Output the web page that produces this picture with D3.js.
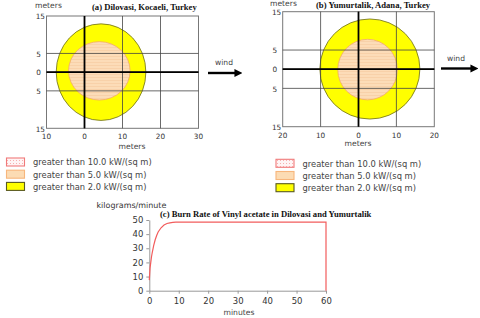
<!DOCTYPE html>
<html><head><meta charset="utf-8">
<script src="https://cdn.jsdelivr.net/npm/d3@7"></script>
<style>
body{margin:0;background:#fff;}
svg{display:block;}
text{font-family:"DejaVu Sans",Verdana,sans-serif;}
.ttl{font-family:"Liberation Serif","Times New Roman",serif;font-weight:bold;}
</style></head><body>
<svg id="c" width="480" height="318"></svg>
<script>
// ---- data ----
const xTicksA = [-10, 0, 10, 20, 30];
const xTicksB = [-20, -10, 0, 10, 20];
const yTicks = [15, 5, 0, -5, -15];
const gridXA = [0, 10, 20];
const gridXB = [-10, 0, 10];
const gridY = [5, 0, -5];
// threat zones: [level, cx, cy, rx, ry] in meters
const zonesA = [["2.0", 4.35, 0.0, 11.8, 12.9], ["5.0", 3.9, 0.35, 8.1, 7.8]];
const zonesB = [["2.0", 3.0, 0.05, 13.2, 13.05], ["5.0", 2.4, -0.1, 7.87, 7.9]];
const legendLabels = ["greater than 10.0 kW/(sq m)", "greater than 5.0 kW/(sq m)", "greater than 2.0 kW/(sq m)"];
const burnMinutes = [0, 0.25, 0.5, 0.75, 1, 1.5, 2, 2.5, 3, 4, 5, 6, 7, 8, 9, 10, 20, 30, 40, 50, 60, 60];
const burnRate =    [7.5, 16, 20, 24, 27, 32, 36, 39, 41.5, 44.5, 46.5, 47.5, 48, 48.3, 48.5, 48.5, 48.5, 48.5, 48.5, 48.5, 48.5, 0];
const burnXTicks = [0, 10, 20, 30, 40, 50, 60];
const burnYTicks = [0, 10, 20, 30, 40, 50];

const svg = d3.select("#c");
// font-size that gives a string a target width
function sizeFor(str, w, cls){
  const t = svg.append("text").attr("font-size",10).attr("class",cls||null).text(str);
  const l = t.node().getComputedTextLength(); t.remove();
  return 10*w/l;
}
const fsTick = sizeFor("10", 9.3);
const fsTickC = sizeFor("10", 10.8);
const fsMeters = sizeFor("meters", 27);
const fsLegend = sizeFor(legendLabels[0], 119);
const fsTitle = sizeFor("(a) Dilovasi, Kocaeli, Turkey", 105, "ttl");
const fsWind = sizeFor("wind", 18);
const fsKg = sizeFor("kilograms/minute", 70);
const fsMin = sizeFor("minutes", 31);

const defs = svg.append("defs");
const hatch = defs.append("pattern").attr("id","hatch").attr("patternUnits","userSpaceOnUse").attr("width",3).attr("height",3);
hatch.append("rect").attr("width",3).attr("height",3).attr("fill","#fcdcb8");
hatch.append("rect").attr("y",2).attr("width",3).attr("height",0.6).attr("fill","#f6cba0");
const dots = defs.append("pattern").attr("id","dots").attr("patternUnits","userSpaceOnUse").attr("width",3).attr("height",3);
dots.append("rect").attr("width",3).attr("height",3).attr("fill","#fff4f4");
dots.append("rect").attr("x",1).attr("y",1).attr("width",1).attr("height",1).attr("fill","#f7b0b0");

const zoneStyle = {"2.0": {fill:"#ffff00", stroke:"#6b6b1e"}, "5.0": {fill:"url(#hatch)", stroke:"#f4a86a"}};

function panel(o){
  const x = d3.scaleLinear().domain(o.xd).range(o.xr);
  const y = d3.scaleLinear().domain([-15,15]).range(o.yr);
  const g = svg.append("g");
  g.append("rect").attr("x",o.xr[0]).attr("y",o.yr[1]).attr("width",o.xr[1]-o.xr[0]).attr("height",o.yr[0]-o.yr[1])
    .attr("fill","#fff").attr("stroke","#777").attr("stroke-width",1);
  o.zones.forEach(z=>{
    g.append("ellipse").attr("cx",x(z[1])).attr("cy",y(z[2]))
      .attr("rx",x(z[1]+z[3])-x(z[1])).attr("ry",y(z[2])-y(z[2]+z[4]))
      .attr("fill",zoneStyle[z[0]].fill).attr("stroke",zoneStyle[z[0]].stroke).attr("stroke-width",0.8);
  });
  o.gx.forEach(v=>g.append("line").attr("x1",x(v)).attr("x2",x(v)).attr("y1",o.yr[0]).attr("y2",o.yr[1]).attr("stroke","#444").attr("stroke-width",0.8));
  gridY.forEach(v=>g.append("line").attr("y1",y(v)).attr("y2",y(v)).attr("x1",o.xr[0]).attr("x2",o.xr[1]).attr("stroke","#444").attr("stroke-width",0.8));
  g.append("line").attr("x1",x(0)).attr("x2",x(0)).attr("y1",o.yr[0]).attr("y2",o.yr[1]).attr("stroke","#000").attr("stroke-width",1.8);
  g.append("line").attr("y1",y(0)).attr("y2",y(0)).attr("x1",o.xr[0]).attr("x2",o.xr[1]).attr("stroke","#000").attr("stroke-width",1.8);
  o.xt.forEach(v=>g.append("text").attr("x",x(v)).attr("y",o.yr[0]+11).attr("text-anchor","middle")
    .attr("font-size",fsTick).attr("fill","#333").text(Math.abs(v)));
  yTicks.forEach(v=>g.append("text").attr("x",o.xr[0]-(Math.abs(v)===15?1.5:5.5)).attr("y",y(v)+3.2)
    .attr("text-anchor","end").attr("font-size",fsTick).attr("fill","#333").text(Math.abs(v)));
  g.append("text").attr("x",o.mTop[0]).attr("y",o.mTop[1]).attr("font-size",fsMeters).attr("fill","#444").text("meters");
  g.append("text").attr("x",o.mBot[0]).attr("y",o.mBot[1]).attr("text-anchor","middle").attr("font-size",fsMeters).attr("fill","#444").text("meters");
  g.append("text").attr("class","ttl").attr("x",o.tt[0]).attr("y",o.tt[1]).attr("font-size",fsTitle).attr("fill","#111").text(o.title);
  // legend
  const ls = [{fill:"url(#dots)",stroke:"#f07a7a"},{fill:"#fcdcb4",stroke:"#f7b67c"},{fill:"#ffff00",stroke:"#5a5a20"}];
  legendLabels.forEach((t,i)=>{
    const yy = o.leg[1] + i*o.leg[2];
    g.append("rect").attr("x",o.leg[0]).attr("y",yy).attr("width",18).attr("height",8)
      .attr("fill",ls[i].fill).attr("stroke",ls[i].stroke).attr("stroke-width",1.1);
    g.append("text").attr("x",o.leg[0]+26.5).attr("y",yy+7.3).attr("font-size",fsLegend).attr("fill","#444").text(t);
  });
}

panel({xd:[-10,30], xr:[46.5,198.5], yr:[128.3,16], zones:zonesA, gx:gridXA, xt:xTicksA,
  mTop:[35,8], mBot:[132,148.5], tt:[92,10], title:"(a) Dilovasi, Kocaeli, Turkey", leg:[6.5,158,12.2]});
panel({xd:[-20,20], xr:[282.7,434.3], yr:[126.7,11.7], zones:zonesB, gx:gridXB, xt:xTicksB,
  mTop:[270,5.5], mBot:[358,145.5], tt:[316,8], title:"(b) Yumurtalik, Adana, Turkey", leg:[276,159.3,12.2]});

// wind arrows
defs.append("marker").attr("id","ah").attr("viewBox","0 0 10 10").attr("refX",2).attr("refY",5)
  .attr("markerWidth",3.3).attr("markerHeight",3.6).attr("orient","auto").attr("markerUnits","strokeWidth")
  .append("path").attr("d","M0,0 L10,5 L0,10 z").attr("fill","#000");
[[208,236,73,224,65],[441,472,68.5,456,61]].forEach(a=>{
  svg.append("line").attr("x1",a[0]).attr("x2",a[1]).attr("y1",a[2]).attr("y2",a[2]).attr("stroke","#000").attr("stroke-width",2.4).attr("marker-end","url(#ah)");
  svg.append("text").attr("x",a[3]).attr("y",a[4]).attr("text-anchor","middle").attr("font-size",fsWind).attr("fill","#444").text("wind");
});

// burn rate chart
const bx = d3.scaleLinear().domain([0,60]).range([149.3,326]);
const by = d3.scaleLinear().domain([0,50]).range([290.7,220]);
const gc = svg.append("g");
const xa = gc.append("g").attr("transform","translate(0,290.7)").call(d3.axisBottom(bx).tickValues(burnXTicks).tickSize(3).tickSizeOuter(0));
const ya = gc.append("g").attr("transform","translate(149.3,0)").call(d3.axisLeft(by).tickValues(burnYTicks).tickSize(3).tickSizeOuter(0));
[xa,ya].forEach(a=>{
  a.select(".domain").attr("stroke","#999");
  a.selectAll(".tick line").attr("stroke","#999");
  a.selectAll("text").attr("font-family","DejaVu Sans, sans-serif").attr("font-size",fsTickC).attr("fill","#333");
});
xa.selectAll("text").attr("dy","0.85em");
gc.append("path").datum(burnMinutes.map((m,i)=>[m,burnRate[i]]))
  .attr("d",d3.line().x(d=>bx(d[0])).y(d=>by(d[1])).curve(d3.curveLinear))
  .attr("fill","none").attr("stroke","#f25c5c").attr("stroke-width",1.2);
gc.append("text").attr("x",96.5).attr("y",208).attr("font-size",fsKg).attr("fill","#333").text("kilograms/minute");
gc.append("text").attr("class","ttl").attr("x",160).attr("y",216.5).attr("font-size",fsTitle).attr("fill","#111").text("(c) Burn Rate of Vinyl acetate in Dilovasi and Yumurtalik");
gc.append("text").attr("x",239).attr("y",315).attr("text-anchor","middle").attr("font-size",fsMin).attr("fill","#444").text("minutes");
</script></body></html>
